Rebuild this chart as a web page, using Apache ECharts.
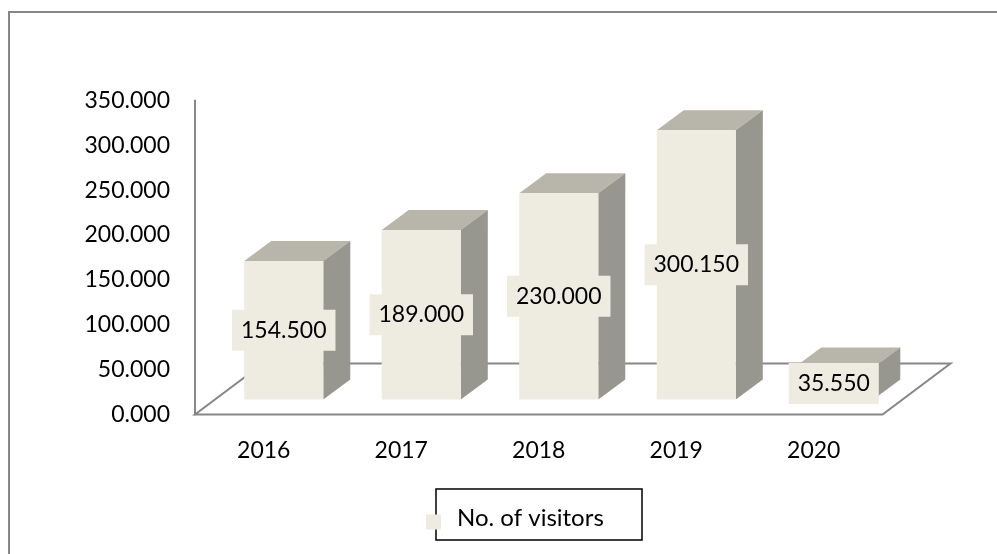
<!DOCTYPE html>
<html>
<head>
<meta charset="utf-8">
<script src="https://cdn.jsdelivr.net/npm/echarts@6/dist/echarts.min.js"></script>
<style>
html,body{margin:0;padding:0;background:#fff;}
#chart{width:997px;height:554px;}
</style>
</head>
<body>
<div id="chart"></div>
<script>
// ---- data ----
const categories = ['2016', '2017', '2018', '2019', '2020'];
const visitors = [154.5, 189.0, 230.0, 300.15, 35.55];
const seriesName = 'No. of visitors';
const yMin = 0, yMax = 350, yStep = 50;

// ---- styles ----
const FONT = 'Lato, "Open Sans", sans-serif';
const FS = 23;
const FRONT = '#EEECE1', TOP = '#B8B5AB', SIDE = '#97978F';
const LINE = '#878787';

const chart = echarts.init(document.getElementById('chart'));

function renderFloor(params, api) {
  const band = api.size([1, 0])[0];
  const p0 = api.coord([0, 0]);
  const p4 = api.coord([categories.length - 1, 0]);
  const xl = p0[0] - band / 2, xr = p4[0] + band / 2, y = p0[1];
  const dx = 68, dy = -51;
  return {
    type: 'polygon',
    shape: { points: [[xl, y], [xr, y], [xr + dx, y + dy], [xl + dx, y + dy]] },
    style: { fill: 'none', stroke: LINE, lineWidth: 2 },
    silent: true
  };
}

function renderBar(params, api) {
  const i = api.value(0), v = api.value(1);
  const t = api.coord([i, v]);
  const b = api.coord([i, 0]);
  const band = api.size([1, 0])[0];
  const w = band * 0.575;
  const ox = 20, oy = -15;      // depth offset of bar front face
  const dx = 27, dy = -20;      // bar depth
  const fl = t[0] + ox - w / 2, fr = fl + w;
  const ft = t[1] + oy, fb = b[1] + oy;
  return {
    type: 'group',
    children: [
      { type: 'polygon', shape: { points: [[fl, ft], [fr, ft], [fr + dx, ft + dy], [fl + dx, ft + dy]] }, style: { fill: TOP } },
      { type: 'polygon', shape: { points: [[fr, ft], [fr + dx, ft + dy], [fr + dx, fb + dy], [fr, fb]] }, style: { fill: SIDE } },
      { type: 'rect', shape: { x: fl, y: ft, width: w, height: fb - ft }, style: { fill: FRONT } },
      { type: 'text', x: (fl + fr) / 2, y: (ft + fb) / 2,
        style: { text: v.toFixed(3), align: 'center', verticalAlign: 'middle',
          fontFamily: FONT, fontSize: FS, lineHeight: 23, fill: '#000',
          backgroundColor: FRONT, padding: [9, 9, 9, 9] } }
    ]
  };
}

chart.setOption({
  animation: false,
  backgroundColor: '#fff',
  grid: { left: 195, right: 114.5, top: 100.5, bottom: 139.5, containLabel: false },
  xAxis: {
    type: 'category', data: categories,
    axisLine: { show: false }, axisTick: { show: false }, splitLine: { show: false },
    axisLabel: { color: '#000', fontFamily: FONT, fontSize: FS, margin: 25, lineHeight: 23 }
  },
  yAxis: {
    type: 'value', min: yMin, max: yMax, interval: yStep,
    axisLine: { show: true, lineStyle: { color: LINE, width: 2 } },
    axisTick: { show: false }, splitLine: { show: false },
    axisLabel: { color: '#000', fontFamily: FONT, fontSize: FS, margin: 25,
      formatter: v => v.toFixed(3) }
  },
  legend: {
    left: 421, top: 501,
    icon: 'path://M0,0 L0.01,0 L0.01,0.01 Z M0,8 L15,8 L15,23 L0,23 Z',
    itemWidth: 15, itemHeight: 23,
    data: [seriesName],
    textStyle: { color: '#000', fontFamily: FONT, fontSize: 24, lineHeight: 23, padding: [0, 0, 0, 11] }
  },
  graphic: [
    { type: 'rect', shape: { x: 9, y: 12, width: 1100, height: 700 },
      style: { fill: 'none', stroke: LINE, lineWidth: 2 }, silent: true, z: -10 },
    { type: 'rect', shape: { x: 436, y: 489, width: 206, height: 51 },
      style: { fill: 'none', stroke: '#000', lineWidth: 1.5 }, silent: true }
  ],
  series: [
    { type: 'custom', name: 'floor', renderItem: renderFloor, data: [[0, 0]], z: 1, silent: true,
      encode: { x: 0, y: 1 } },
    { type: 'custom', name: seriesName, renderItem: renderBar, z: 2,
      itemStyle: { color: FRONT },
      encode: { x: 0, y: 1 },
      data: visitors.map((v, i) => [i, v]) }
  ]
});
</script>
</body>
</html>
